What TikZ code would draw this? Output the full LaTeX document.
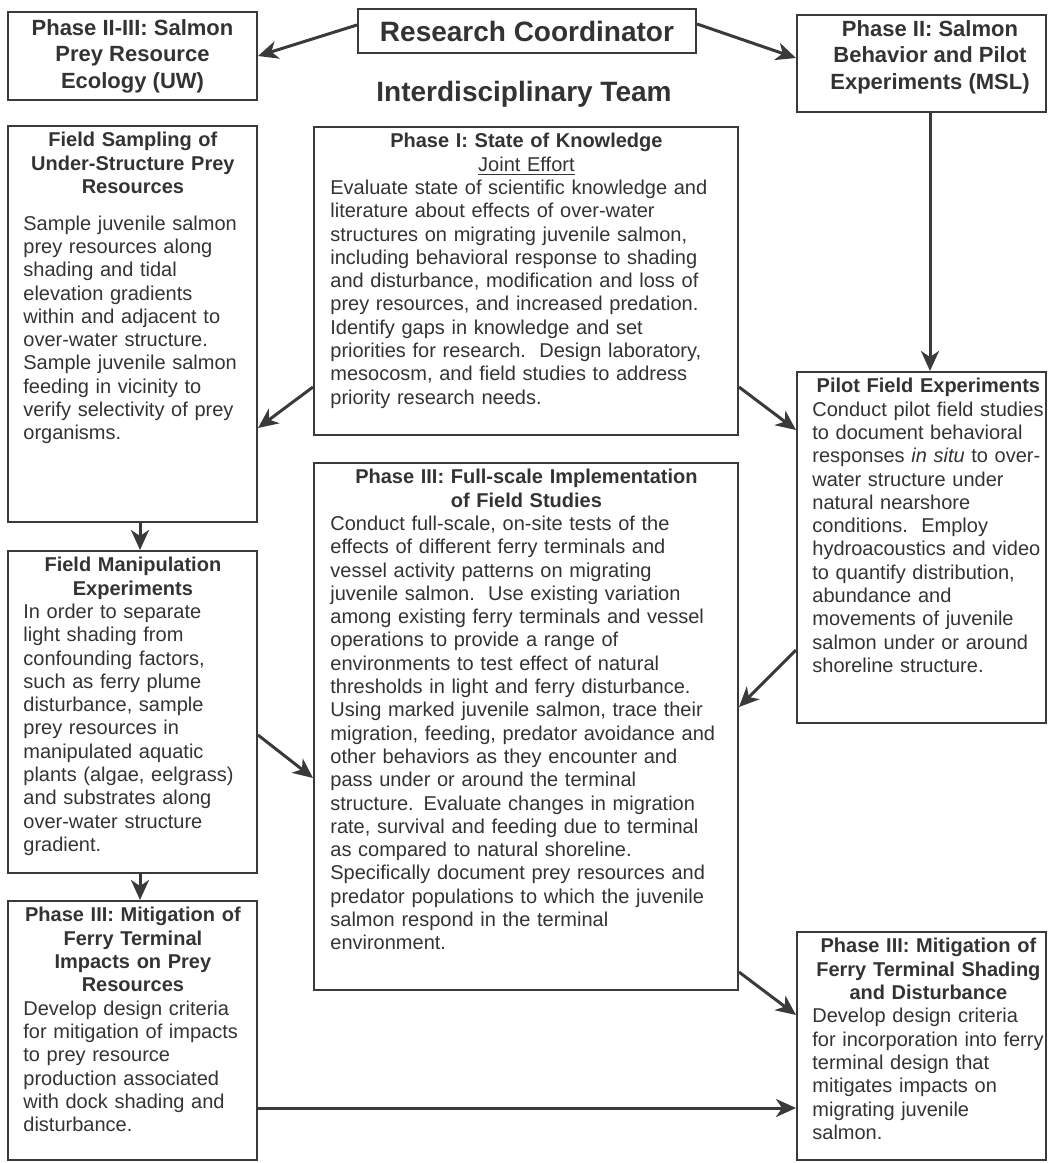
\documentclass[tikz,border=0pt]{standalone}
\usepackage{fontspec}
\setmainfont{Liberation Sans}
\usetikzlibrary{arrows.meta,fit,calc}
\definecolor{ink}{HTML}{333333}
\definecolor{edge}{HTML}{3A3A3A}
\begin{document}
\begin{tikzpicture}[x=0.5pt,y=-0.5pt,
  box/.style={draw=edge, line width=1pt, inner sep=0pt},
  txt/.style={inner sep=0pt, text=ink, anchor=north west, font=\fontsize{10}{11.65}\selectfont},
  toptxt/.style={inner sep=0pt, text=ink, anchor=north, align=center, font=\fontsize{11}{13.3}\selectfont\bfseries},
  arr/.style={draw=edge, line width=1.5pt, -{Stealth[length=10pt,width=9pt,inset=3pt]}},
]
\useasboundingbox (0,0) rectangle (1050,1163);

% top row
\node[box, fit={(358,9) (696,53)}] (rc) {};
\node[inner sep=0pt, text=ink, font=\fontsize{14}{16}\selectfont\bfseries] (rct) at (rc.center) {Research Coordinator};
\node[inner sep=0pt, text=ink, anchor=base, font=\fontsize{14}{16}\selectfont\bfseries] (team) at (524,101) {Interdisciplinary Team};

\node[box, fit={(8,12) (257,100)}] (uw) {};
\node[toptxt] (uwt) at (132.5,19) {Phase II-III: Salmon\\Prey Resource\\Ecology (UW)};

\node[box, fit={(797,15) (1046,112)}] (msl) {};
\node[toptxt] (mslt) at (930,20) {Phase II: Salmon\\Behavior and Pilot\\Experiments (MSL)};

% left column
\node[box, fit={(8,126) (257,522)}] (fs) {};
\node[txt, text width=109.5pt] (fst) at (23,132) {%
{\centering\bfseries Field Sampling of\\Under-Structure Prey\\Resources\par}\vspace{6.7pt}%
\raggedright Sample juvenile salmon\\prey resources along\\shading and tidal\\elevation gradients\\within and adjacent to\\over-water structure.\\Sample juvenile salmon\\feeding in vicinity to\\verify selectivity of prey\\organisms.};

\node[box, fit={(8,551) (257,873)}] (fm) {};
\node[txt, text width=109.5pt] (fmt) at (23,557) {%
{\centering\bfseries Field Manipulation\\Experiments\par}%
\raggedright In order to separate\\light shading from\\confounding factors,\\such as ferry plume\\disturbance, sample\\prey resources in\\manipulated aquatic\\plants (algae, eelgrass)\\and substrates along\\over-water structure\\gradient.};

\node[box, fit={(8,901) (257,1160)}] (mp) {};
\node[txt, text width=109.5pt] (mpt) at (23,907) {%
{\centering\bfseries Phase III: Mitigation of\\Ferry Terminal\\Impacts on Prey\\Resources\par}%
\raggedright Develop design criteria\\for mitigation of impacts\\to prey resource\\production associated\\with dock shading and\\disturbance.};

% middle column
\node[box, fit={(314,127) (738,435)}] (p1) {};
\node[txt, text width=196pt] (p1t) at (330,133) {%
{\centering\bfseries Phase I: State of Knowledge\\\mdseries\underline{Joint Effort}\par}%
\raggedright Evaluate state of scientific knowledge and\\literature about effects of over-water\\structures on migrating juvenile salmon,\\including behavioral response to shading\\and disturbance, modification and loss of\\prey resources, and increased predation.\\Identify gaps in knowledge and set\\priorities for research.\ \ Design laboratory,\\mesocosm, and field studies to address\\priority research needs.};

\node[box, fit={(314,463) (738,990)}] (p3) {};
\node[txt, text width=196pt] (p3t) at (330,469) {%
{\centering\bfseries Phase III: Full-scale Implementation\\of Field Studies\par}%
\raggedright Conduct full-scale, on-site tests of the\\effects of different ferry terminals and\\vessel activity patterns on migrating\\juvenile salmon.\ \ Use existing variation\\among existing ferry terminals and vessel\\operations to provide a range of\\environments to test effect of natural\\thresholds in light and ferry disturbance.\\Using marked juvenile salmon, trace their\\migration, feeding, predator avoidance and\\other behaviors as they encounter and\\pass under or around the terminal\\structure. Evaluate changes in migration\\rate, survival and feeding due to terminal\\as compared to natural shoreline.\\Specifically document prey resources and\\predator populations to which the juvenile\\salmon respond in the terminal\\environment.};

% right column
\node[box, fit={(797,372) (1046,723)}] (pilot) {};
\node[txt, text width=116pt] (pilott) at (812,378) {%
{\centering\bfseries Pilot Field Experiments\par}%
\raggedright Conduct pilot field studies\\to document behavioral\\responses \textit{in situ} to over-\\water structure under\\natural nearshore\\conditions.\ \ Employ\\hydroacoustics and video\\to quantify distribution,\\abundance and\\movements of juvenile\\salmon under or around\\shoreline structure.};

\node[box, fit={(797,932) (1046,1160)}] (shade) {};
\node[txt, text width=116pt] (shadet) at (812,938) {%
{\centering\bfseries Phase III: Mitigation of\\Ferry Terminal Shading\\and Disturbance\par}%
\raggedright Develop design criteria\\for incorporation into ferry\\terminal design that\\mitigates impacts on\\migrating juvenile\\salmon.};

% connectors
\draw[arr] (rc.west |- 0,25) -- (uw.east |- 0,56);
\draw[arr] (rc.east |- 0,24) -- (msl.west |- 0,58);
\draw[arr] (msl.south -| 930,0) -- (pilot.north -| 930,0);
\draw[arr] (fs.south -| 140,0) -- (fm.north -| 140,0);
\draw[arr] (fm.south -| 140,0) -- (mp.north -| 140,0);
\draw[arr] (p1.west |- 0,387) -- (fs.east |- 0,428);
\draw[arr] (p1.east |- 0,387) -- (pilot.west |- 0,430);
\draw[arr] (pilot.west |- 0,650) -- (p3.east |- 0,707);
\draw[arr] (fm.east |- 0,735) -- (p3.west |- 0,778);
\draw[arr] (p3.east |- 0,972) -- (shade.west |- 0,1015);
\draw[arr] (mp.east |- 0,1108) -- (shade.west |- 0,1108);
\end{tikzpicture}
\end{document}
